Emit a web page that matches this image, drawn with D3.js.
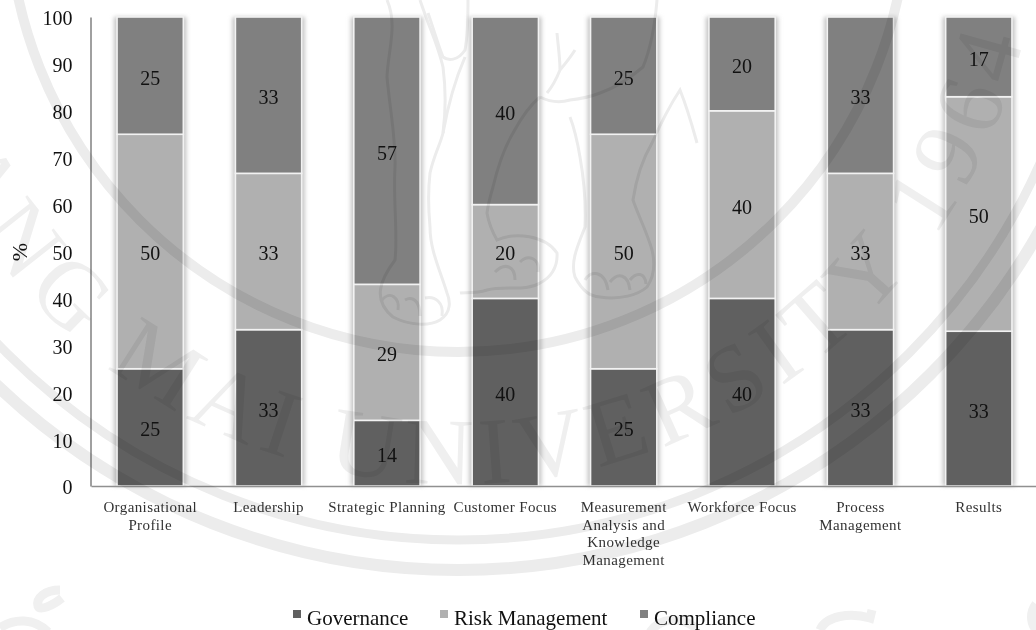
<!DOCTYPE html>
<html><head><meta charset="utf-8">
<script src="https://cdn.jsdelivr.net/npm/d3@7/dist/d3.min.js"></script>
<style>
html,body{margin:0;padding:0;background:#fff;overflow:hidden}
text{font-family:"Liberation Serif",serif;fill:#111}
</style></head><body>
<svg id="chart" width="1036" height="630"></svg>
<script>
const categories = [
  ["Organisational","Profile"],["Leadership"],["Strategic Planning"],["Customer Focus"],
  ["Measurement","Analysis and","Knowledge","Management"],["Workforce Focus"],["Process","Management"],["Results"]
];
const seriesNames = ["Governance","Risk Management","Compliance"];
const governance = [25,33,14,40,25,40,33,33];
const riskManagement = [50,33,29,20,50,40,33,50];
const compliance = [25,33,57,40,25,20,33,17];
const seriesColors = ["#606060","#b0b0b0","#808080"];
const tickValues = [0,10,20,30,40,50,60,70,80,90,100];

const svg = d3.select("#chart");
const x = d3.scaleBand().domain(d3.range(categories.length)).range([91,1038]).paddingInner(0.44).paddingOuter(0.22);
const y = d3.scaleLinear().domain([0,100]).range([486,17]);

const rows = categories.map((c,i)=>({i,Governance:governance[i],"Risk Management":riskManagement[i],Compliance:compliance[i]}));
// Percent-stacked: each column is normalised to its own total
const stacked = d3.stack().keys(seriesNames).offset(d3.stackOffsetExpand)(rows);

const defs = svg.append("defs");
defs.append("filter").attr("id","barGlow").attr("x","-20%").attr("width","140%")
  .append("feGaussianBlur").attr("stdDeviation",2.2);

// soft halo behind each column
svg.append("g").selectAll("rect").data(rows).join("rect")
  .attr("x",d=>x(d.i)-3).attr("width",x.bandwidth()+6)
  .attr("y",y(100)).attr("height",y(0)-y(100))
  .attr("fill","#c4c4c4").attr("filter","url(#barGlow)");

svg.append("g").selectAll("g").data(stacked).join("g").attr("fill",(d,i)=>seriesColors[i])
  .selectAll("rect").data(d=>d).join("rect")
  .attr("x",d=>x(d.data.i)).attr("width",x.bandwidth())
  .attr("y",d=>y(d[1]*100)).attr("height",d=>y(d[0]*100)-y(d[1]*100))
  .attr("stroke","#f2f2f2").attr("stroke-width",1.6);

// axes
const yAxis = d3.axisLeft(y).tickValues(tickValues).tickSize(0).tickPadding(18);
const yG = svg.append("g").attr("transform","translate(90.5,1.5)").call(yAxis);
yG.select(".domain").attr("stroke","#808080").attr("stroke-width",1.5).attr("transform","translate(0,-1.5)");
yG.selectAll("text").attr("font-size",20).attr("font-family","Liberation Serif").attr("dy","0.32em");

const xAxis = d3.axisBottom(x).tickSize(0).tickFormat("");
const xG = svg.append("g").attr("transform","translate(0,486)").call(xAxis);
xG.select(".domain").attr("stroke","#909090").attr("stroke-width",1.5);

svg.append("g").selectAll("text").data(categories).join("text")
  .attr("text-anchor","middle").attr("font-size",15).attr("letter-spacing",0.4).style("fill","#333")
  .attr("transform",(d,i)=>`translate(${x(i)+x.bandwidth()/2},512)`)
  .selectAll("tspan").data(d=>d).join("tspan")
  .attr("x",0).attr("y",(d,i)=>i*17.6).text(d=>d);

// value labels
svg.append("g").selectAll("g").data(stacked).join("g")
  .selectAll("text").data(d=>d.map(p=>({p,key:d.key}))).join("text")
  .attr("text-anchor","middle").attr("font-size",20).attr("dy","0.32em")
  .attr("x",d=>x(d.p.data.i)+x.bandwidth()/2)
  .attr("y",d=>y((d.p[0]+d.p[1])*50)+2.5)
  .text(d=>d.p.data[d.key]);

svg.append("text").attr("font-size",22).attr("text-anchor","middle")
  .attr("transform","translate(27,252) rotate(-90)").text("%");

// legend
const legendX = [293,440,640];
const legend = svg.append("g").selectAll("g").data(seriesNames).join("g")
  .attr("transform",(d,i)=>`translate(${legendX[i]},610)`);
legend.append("rect").attr("width",8).attr("height",8).attr("fill",(d,i)=>seriesColors[i]);
legend.append("text").attr("x",14).attr("y",14.5).attr("font-size",21).text(d=>d);

// university seal, laid over the whole page
const seal = svg.append("g").style("mix-blend-mode","multiply");
const cx = 458, cy = -98, sealInk = "#ececec";
[[450,10],[638,9],[668,12]].forEach(([r,w])=>{
  seal.append("circle").attr("cx",cx).attr("cy",cy).attr("r",r)
    .attr("fill","none").attr("stroke",sealInk).attr("stroke-width",w);
});
const polar = (r,deg)=>[cx+r*Math.cos(deg*Math.PI/180),cy+r*Math.sin(deg*Math.PI/180)];
const [sx,sy]=polar(582,172), [ex,ey]=polar(582,-40);
defs.append("path").attr("id","sealArc").attr("d",`M${sx},${sy}A582,582 0 1 0 ${ex},${ey}`);
seal.append("text").attr("font-size",95).attr("letter-spacing",9).style("fill","#efefef")
  .append("textPath").attr("href","#sealArc").text("CHIANG MAI UNIVERSITY 1964");

// elephant outlines in the middle of the seal
const sealLines = [
  "M387,0C398,25 388,50 387,77C390,110 396,140 395,167C393,200 398,235 395,260C380,280 372,300 393,317C410,326 430,326 440,320C452,312 450,300 447,293C440,270 430,250 430,227C428,205 428,190 430,173C434,155 440,145 443,133C446,110 446,90 443,67C438,45 430,30 420,0",
  "M428,13C434,30 438,45 443,57C448,61 458,61 465,50C468,35 468,15 468,0",
  "M465,57C455,80 448,105 443,133",
  "M540,97C530,105 520,120 513,133C503,150 497,170 493,187C490,197 488,205 487,213C489,225 493,233 497,240C515,232 545,235 557,253C558,268 550,278 540,283C525,292 505,285 487,290C475,294 465,292 460,293",
  "M570,117C575,130 578,145 580,157C584,180 586,205 585,227C578,245 570,262 575,277C583,292 590,296 600,297C620,300 638,295 647,287C655,275 655,262 652,250C647,232 638,215 633,200C636,180 642,160 652,143C660,125 670,105 680,90C688,110 692,125 697,143",
  "M540,97C550,102 560,103 570,100C580,99 590,97 600,93C615,88 630,78 643,67C650,50 655,25 657,0",
  "M557,33C558,45 560,58 560,70C556,80 552,87 547,93M575,50C570,58 565,64 560,70",
  "M382,300C390,290 400,298 398,310M405,300C412,296 420,300 420,316M425,298C435,296 444,302 442,316",
  "M585,280C590,270 605,270 608,290M610,282C618,272 628,274 630,290M630,280C636,272 645,272 646,284",
  "M495,272C505,262 515,266 515,280M520,262C528,254 540,258 538,272"
];
seal.selectAll("path.el").data(sealLines).join("path").attr("class","el")
  .attr("d",d=>d).attr("fill","none").attr("stroke",sealInk).attr("stroke-width",3);

// corner flourishes of the repeated seal, cut by the page edge
const flourishes = [
  "M60,590C45,590 36,598 38,606C40,611 52,606 62,598",
  "M0,628C14,618 34,618 48,632",
  "M820,630C826,616 850,612 870,618L872,610",
  "M650,632C660,618 680,616 696,628",
  "M1036,604C1030,612 1030,622 1036,630"
];
seal.selectAll("path.fl").data(flourishes).join("path").attr("class","fl")
  .attr("d",d=>d).attr("fill","none").attr("stroke","#f0f0f0").attr("stroke-width",9);
</script>
</body></html>
